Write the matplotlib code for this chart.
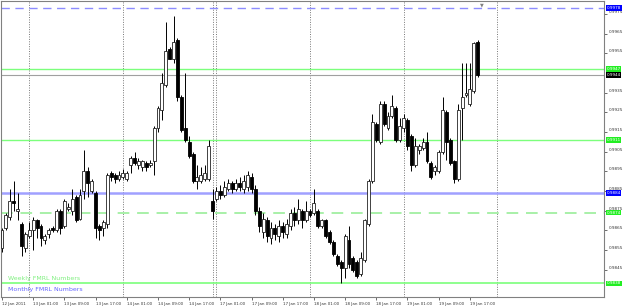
import numpy as np
import matplotlib
matplotlib.use("Agg")
import matplotlib.pyplot as plt
import matplotlib.transforms as mtransforms

# H1 bars, 12 Jan 2011 17:00 -> 19 Jan 2011 19:00
opens = [
    0.9856, 0.9866, 0.9872, 0.9880, 0.9875, 0.9868, 0.9856, 0.9862, 0.9865, 0.9870,
    0.9867, 0.9860, 0.9863, 0.9866, 0.9865, 0.9875, 0.9867, 0.9876, 0.9875, 0.9882,
    0.9871, 0.9885, 0.9895, 0.9885, 0.9884, 0.9867, 0.9866, 0.9868, 0.9894, 0.9893,
    0.9891, 0.9892, 0.9891, 0.9898, 0.9902, 0.9898, 0.9897, 0.9899, 0.9898, 0.9900,
    0.9917, 0.9926, 0.9939, 0.9957, 0.9952, 0.9962, 0.9933, 0.9917, 0.9910, 0.9904,
    0.9890, 0.9890, 0.9891, 0.9891, 0.9880, 0.9881, 0.9885, 0.9883, 0.9886, 0.9889,
    0.9886, 0.9889, 0.9886, 0.9887, 0.9892, 0.9886, 0.9875, 0.9864, 0.9870, 0.9861,
    0.9866, 0.9862, 0.9867, 0.9863, 0.9867, 0.9874, 0.9870, 0.9875, 0.9870, 0.9875,
    0.9874, 0.9875, 0.9867, 0.9870, 0.9864, 0.9859, 0.9852, 0.9849, 0.9846, 0.9860,
    0.9851, 0.9849, 0.9843, 0.9850, 0.9868, 0.9890, 0.9919, 0.9910, 0.9929, 0.9917,
    0.9923, 0.9927, 0.9911, 0.9917, 0.9921, 0.9913, 0.9898, 0.9906, 0.9907, 0.9910,
    0.9899, 0.9895, 0.9895, 0.9905, 0.9925, 0.9911, 0.9900, 0.9891, 0.9927, 0.9934,
    0.9929, 0.9936, 0.9961,
]
highs = [
    0.9866, 0.9874, 0.9886, 0.9890, 0.9884, 0.9869, 0.9864, 0.9869, 0.9872, 0.9871,
    0.9868, 0.9863, 0.9866, 0.9867, 0.9876, 0.9876, 0.9881, 0.9879, 0.9886, 0.9883,
    0.9886, 0.9906, 0.9897, 0.9891, 0.9885, 0.9868, 0.9870, 0.9894, 0.9895, 0.9894,
    0.9895, 0.9896, 0.9895, 0.9903, 0.9905, 0.9902, 0.9901, 0.9900, 0.9901, 0.9918,
    0.9928, 0.9945, 0.9971, 0.9958, 0.9974, 0.9963, 0.9934, 0.9945, 0.9913, 0.9905,
    0.9898, 0.9897, 0.9898, 0.9911, 0.9886, 0.9887, 0.9888, 0.9890, 0.9891, 0.9890,
    0.9891, 0.9892, 0.9893, 0.9895, 0.9894, 0.9888, 0.9877, 0.9874, 0.9872, 0.9869,
    0.9868, 0.9870, 0.9869, 0.9871, 0.9876, 0.9877, 0.9881, 0.9876, 0.9880, 0.9876,
    0.9886, 0.9876, 0.9871, 0.9871, 0.9865, 0.9860, 0.9853, 0.9850, 0.9863, 0.9867,
    0.9852, 0.9850, 0.9854, 0.9871, 0.9891, 0.9924, 0.9920, 0.9931, 0.9931, 0.9925,
    0.9934, 0.9928, 0.9922, 0.9924, 0.9922, 0.9914, 0.9912, 0.9909, 0.9912, 0.9915,
    0.9900, 0.9898, 0.9906, 0.9933, 0.9926, 0.9912, 0.9901, 0.9929, 0.9950, 0.9950,
    0.9950, 0.9961, 0.9962,
]
lows = [
    0.9854, 0.9865, 0.9870, 0.9875, 0.9870, 0.9852, 0.9854, 0.9861, 0.9855, 0.9861,
    0.9857, 0.9858, 0.9861, 0.9864, 0.9864, 0.9863, 0.9866, 0.9875, 0.9873, 0.9869,
    0.9870, 0.9881, 0.9882, 0.9884, 0.9861, 0.9860, 0.9862, 0.9866, 0.9890, 0.9889,
    0.9890, 0.9891, 0.9890, 0.9894, 0.9898, 0.9896, 0.9895, 0.9895, 0.9897, 0.9893,
    0.9915, 0.9921, 0.9938, 0.9952, 0.9950, 0.9931, 0.9915, 0.9910, 0.9902, 0.9889,
    0.9886, 0.9889, 0.9890, 0.9890, 0.9871, 0.9880, 0.9881, 0.9882, 0.9885, 0.9884,
    0.9885, 0.9885, 0.9884, 0.9885, 0.9884, 0.9873, 0.9864, 0.9861, 0.9859, 0.9858,
    0.9860, 0.9859, 0.9861, 0.9861, 0.9865, 0.9867, 0.9868, 0.9866, 0.9869, 0.9872,
    0.9873, 0.9866, 0.9866, 0.9861, 0.9858, 0.9852, 0.9847, 0.9838, 0.9841, 0.9846,
    0.9844, 0.9841, 0.9842, 0.9849, 0.9867, 0.9889, 0.9910, 0.9909, 0.9918, 0.9916,
    0.9922, 0.9910, 0.9910, 0.9915, 0.9906, 0.9895, 0.9897, 0.9904, 0.9906, 0.9899,
    0.9891, 0.9893, 0.9894, 0.9904, 0.9901, 0.9898, 0.9889, 0.9890, 0.9911, 0.9933,
    0.9928, 0.9935, 0.9943,
]
closes = [
    0.9865, 0.9873, 0.9880, 0.9879, 0.9876, 0.9857, 0.9863, 0.9865, 0.9870, 0.9866,
    0.9861, 0.9862, 0.9865, 0.9865, 0.9875, 0.9866, 0.9880, 0.9877, 0.9881, 0.9870,
    0.9883, 0.9895, 0.9889, 0.9890, 0.9866, 0.9865, 0.9869, 0.9893, 0.9892, 0.9891,
    0.9893, 0.9894, 0.9894, 0.9902, 0.9899, 0.9900, 0.9900, 0.9897, 0.9899, 0.9917,
    0.9927, 0.9940, 0.9956, 0.9952, 0.9961, 0.9933, 0.9916, 0.9911, 0.9903, 0.9890,
    0.9892, 0.9893, 0.9894, 0.9908, 0.9875, 0.9885, 0.9883, 0.9887, 0.9889, 0.9886,
    0.9889, 0.9887, 0.9890, 0.9893, 0.9886, 0.9875, 0.9867, 0.9871, 0.9862, 0.9866,
    0.9863, 0.9867, 0.9864, 0.9868, 0.9874, 0.9870, 0.9876, 0.9870, 0.9875, 0.9873,
    0.9879, 0.9867, 0.9870, 0.9862, 0.9859, 0.9853, 0.9848, 0.9846, 0.9862, 0.9848,
    0.9845, 0.9842, 0.9851, 0.9870, 0.9890, 0.9920, 0.9911, 0.9929, 0.9919, 0.9923,
    0.9928, 0.9911, 0.9918, 0.9922, 0.9908, 0.9898, 0.9908, 0.9908, 0.9910, 0.9900,
    0.9892, 0.9897, 0.9905, 0.9926, 0.9910, 0.9899, 0.9891, 0.9926, 0.9933, 0.9935,
    0.9937, 0.9960, 0.9944,
]

# time axis labels (bar index -> text) and day separators (bar index)
tick_bars = [0, 8, 16, 24, 32, 40, 48, 56, 64, 72, 80, 88, 96, 104, 112, 120]
tick_labels = ["12 Jan 2011", "13 Jan 01:00", "13 Jan 09:00", "13 Jan 17:00",
               "14 Jan 01:00", "14 Jan 09:00", "14 Jan 17:00", "17 Jan 01:00",
               "17 Jan 09:00", "17 Jan 17:00", "18 Jan 01:00", "18 Jan 09:00",
               "18 Jan 17:00", "19 Jan 01:00", "19 Jan 09:00", "19 Jan 17:00"]
separator_bars = [7, 31, 54, 55, 79, 103, 127]

# horizontal levels
level_values = [0.9978, 0.9947, 0.9944, 0.9911, 0.9884, 0.9874, 0.9838]
level_colors = ["#8c8cff", "#7cff7c", "#a0a0a0", "#7cff7c", "#a0a0ff", "#a8f0a8", "#7cff7c"]
level_styles = [(0, (6, 4)), "-", "-", "-", "-", (0, (6, 4)), "-"]
level_widths = [1.0, 1.0, 0.8, 1.0, 1.8, 1.4, 1.2]
box_colors = ["#0000ff", "#22ee22", "#000000", "#22ee22", "#0000ff", "#22ee22", "#22ee22"]

price_ticks = [0.9975, 0.9965, 0.9955, 0.9935, 0.9925, 0.9915, 0.9905,
               0.9895, 0.9885, 0.9875, 0.9865, 0.9855, 0.9845]

fig = plt.figure(figsize=(6.25, 3.07), dpi=100)
fig.patch.set_facecolor("white")
ax = fig.add_axes([0.0016, 0.0326, 0.9648, 0.9641])

o = np.array(opens)
c = np.array(closes)
x = np.arange(len(opens))
up = c >= o

ax.vlines(x, lows, highs, color="black", lw=0.7, zorder=2)
ax.bar(x[up], (c - o)[up], bottom=o[up], width=0.75, color="white",
       edgecolor="#222222", lw=0.6, zorder=3)
ax.bar(x[~up], (o - c)[~up], bottom=c[~up], width=0.75, color="black",
       edgecolor="black", lw=0.6, zorder=3)

for b in separator_bars:
    ax.axvline(b, color="#777777", ls=(0, (1, 1.5)), lw=0.7, zorder=1)

trans = mtransforms.blended_transform_factory(ax.transAxes, ax.transData)
for v, col, ls, lw, bc in zip(level_values, level_colors, level_styles, level_widths, box_colors):
    ax.axhline(v, color=col, ls=ls, lw=lw, zorder=1.5)
    ax.text(1.004, v, f"{v:.4f}", transform=trans, fontsize=3.0, color="white",
            va="center", ha="left", zorder=6, clip_on=False,
            bbox=dict(boxstyle="square,pad=0.2", fc=bc, ec="none"))

ax.set_xlim(-0.26, 154.4)
ax.set_ylim(0.98311, 0.99816)

ax.yaxis.tick_right()
ax.set_yticks(price_ticks)
ax.set_yticklabels([f"{v:.4f}" for v in price_ticks])
ax.tick_params(axis="y", labelsize=3.0, length=2, width=0.5, pad=1.5,
               colors="#333333")
for lab in ax.get_yticklabels():
    lab.set_verticalalignment("bottom")

ax.set_xticks(tick_bars)
ax.set_xticklabels(tick_labels)
ax.tick_params(axis="x", labelsize=2.9, length=2, width=0.5, pad=1.5,
               colors="#333333")
for lab in ax.get_xticklabels():
    lab.set_horizontalalignment("left")

for s in ax.spines.values():
    s.set_color("#808080")
    s.set_linewidth(0.8)

ax.text(0.011, 0.064, "Weekly FMRL Numbers", transform=ax.transAxes,
        fontsize=4.5, color="#80f080", va="center", ha="left")
ax.text(0.011, 0.027, "Monthly FMRL Numbers", transform=ax.transAxes,
        fontsize=4.5, color="#6666ff", va="center", ha="left")

# chart shift marker
ax.text(0.797, 0.997, "\u25bc", transform=ax.transAxes, fontsize=3.5,
        color="#808080", ha="center", va="top")

fig.savefig("out.png", dpi=100, facecolor="white")
